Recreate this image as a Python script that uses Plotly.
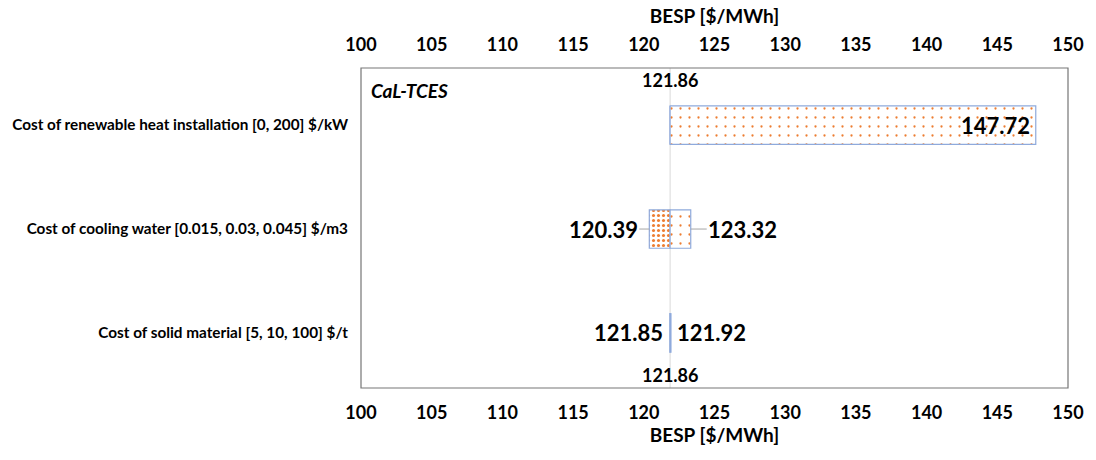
import plotly.graph_objects as go

# Sensitivity (tornado) data for CaL-TCES break-even selling price
categories = [
    "Cost of renewable heat installation [0, 200] $/kW",
    "Cost of cooling water [0.015, 0.03, 0.045] $/m3",
    "Cost of solid material [5, 10, 100] $/t",
]
base_value = 121.86
low_values = [121.86, 120.39, 121.85]
high_values = [147.72, 123.32, 121.92]
tick_values = [100, 105, 110, 115, 120, 125, 130, 135, 140, 145, 150]

FONT = "Lato"
ORANGE = "#ED7D31"
OUTLINE = "#8FAADC"

fig = go.Figure()

# Low side (dense dots)
fig.add_trace(go.Bar(
    y=categories,
    x=[v - base_value for v in low_values],
    base=base_value,
    orientation="h",
    width=0.37,
    marker=dict(
        color="white",
        line=dict(color=OUTLINE, width=1.2),
        pattern=dict(shape=".", fgcolor=ORANGE, bgcolor="white",
                     size=5, solidity=0.3, fillmode="replace"),
    ),
    hoverinfo="skip",
    showlegend=False,
))

# High side (sparse dots)
fig.add_trace(go.Bar(
    y=categories,
    x=[v - base_value for v in high_values],
    base=base_value,
    orientation="h",
    width=0.37,
    marker=dict(
        color="white",
        line=dict(color=OUTLINE, width=1.2),
        pattern=dict(shape=".", fgcolor=ORANGE, bgcolor="white",
                     size=9, solidity=0.05, fillmode="replace"),
    ),
    hoverinfo="skip",
    showlegend=False,
))

# Invisible trace to activate the top axis
fig.add_trace(go.Scatter(
    x=[tick_values[0], tick_values[-1]], y=[categories[0], categories[0]],
    xaxis="x2", mode="markers", marker=dict(opacity=0),
    hoverinfo="skip", showlegend=False,
))

# Base-case reference line
fig.add_shape(type="line", xref="x", yref="paper",
              x0=base_value, x1=base_value, y0=0, y1=1,
              line=dict(color="#D9D9D9", width=1), layer="below")

# Plot-area frame
fig.add_shape(type="rect", xref="paper", yref="paper",
              x0=0, x1=1, y0=0, y1=1,
              line=dict(color="#767676", width=1.2))

big = dict(family=FONT, size=22, color="black", weight="bold")
mid = dict(family=FONT, size=18, color="black", weight="bold")

# Value labels
fig.add_annotation(x=high_values[0], y=categories[0], text=f"{high_values[0]:.2f}",
                   showarrow=False, xanchor="right", xshift=-4, font=big)
fig.add_annotation(x=low_values[1], y=categories[1], text=f"{low_values[1]:.2f}",
                   showarrow=True, ax=-46, ay=0, arrowhead=0, arrowwidth=1,
                   arrowcolor="#A6A6A6", standoff=0, font=big)
fig.add_annotation(x=high_values[1], y=categories[1], text=f"{high_values[1]:.2f}",
                   showarrow=True, ax=52, ay=0, arrowhead=0, arrowwidth=1,
                   arrowcolor="#A6A6A6", standoff=0, font=big)
fig.add_annotation(x=low_values[2], y=categories[2], text=f"{low_values[2]:.2f}",
                   showarrow=False, xanchor="right", xshift=-5, font=big)
fig.add_annotation(x=high_values[2], y=categories[2], text=f"{high_values[2]:.2f}",
                   showarrow=False, xanchor="left", xshift=4, font=big)

# Base-case labels above and below
fig.add_annotation(x=base_value, xref="x", y=0.9625, yref="paper", yanchor="middle",
                   text=f"{base_value:.2f}", showarrow=False, font=mid)
fig.add_annotation(x=base_value, xref="x", y=0.04, yref="paper", yanchor="middle",
                   text=f"{base_value:.2f}", showarrow=False, font=mid)

# Chart label
fig.add_annotation(x=0.012, xref="paper", y=0.931, yref="paper",
                   xanchor="left", yanchor="middle",
                   text="<b><i>CaL-TCES</i></b>", showarrow=False,
                   font=dict(family=FONT, size=19, color="black"))

axis_common = dict(
    range=[tick_values[0], tick_values[-1]],
    tickvals=tick_values,
    showgrid=False, zeroline=False,
    ticks="",
    tickfont=dict(family=FONT, size=18, color="black", weight="bold"),
    title_font=dict(family=FONT, size=19, color="black", weight="bold"),
)

fig.update_layout(
    width=1096, height=460,
    margin=dict(l=360, r=24, t=68, b=72),
    paper_bgcolor="white", plot_bgcolor="white",
    barmode="overlay",
    xaxis=dict(**axis_common, title_text="BESP [$/MWh]", side="bottom",
               ticklabelstandoff=12, title_standoff=4),
    xaxis2=dict(**axis_common, title_text="BESP [$/MWh]", side="top",
                overlaying="x", matches="x", ticklabelstandoff=12, title_standoff=4),
    yaxis=dict(
        categoryorder="array", categoryarray=categories,
        range=[2.53, -0.55],
        showgrid=False, zeroline=False, ticks="",
        ticklabelstandoff=12,
        tickfont=dict(family=FONT, size=15.3, color="black", weight="bold"),
    ),
)

fig.write_html("out.html")
